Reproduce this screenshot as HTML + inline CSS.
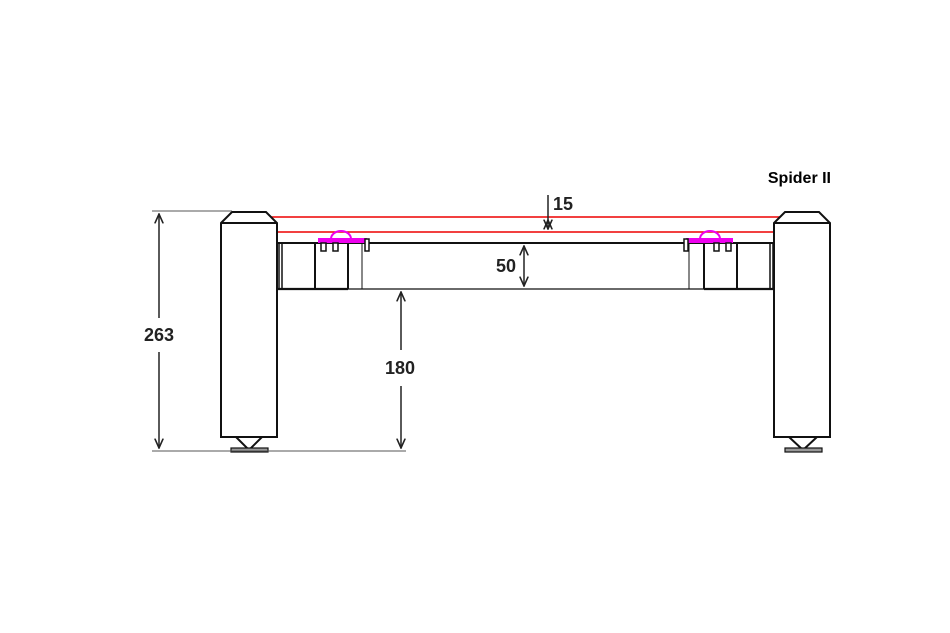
<!DOCTYPE html>
<html><head><style>html,body{margin:0;padding:0;background:#fff}svg{display:block}</style></head>
<body>
<svg width="950" height="633" viewBox="0 0 950 633" xmlns="http://www.w3.org/2000/svg">
<defs>
<marker id="a" viewBox="0 0 10 10" refX="9" refY="5" markerWidth="7" markerHeight="7" orient="auto-start-reverse"><path d="M0,1 L9,5 L0,9" fill="none" stroke="#222" stroke-width="1.5"/></marker>
</defs>
<rect width="950" height="633" fill="#fff"/>
<!-- red lines -->
<line x1="270" y1="217" x2="780" y2="217" stroke="#e00" stroke-width="1.5"/>
<line x1="277" y1="232" x2="775" y2="232" stroke="#e00" stroke-width="1.5"/>
<!-- beam -->
<g stroke="#111" fill="none">
<line x1="277" y1="243" x2="775" y2="243" stroke-width="2"/>
<line x1="277" y1="289" x2="775" y2="289" stroke-width="1.2"/>
<line x1="278" y1="289" x2="348" y2="289" stroke-width="2.2"/>
<line x1="704" y1="289" x2="773" y2="289" stroke-width="2.2"/>
<line x1="279" y1="243" x2="279" y2="289" stroke-width="1.5"/>
<line x1="282" y1="243" x2="282" y2="289" stroke-width="1.5"/>
<line x1="315" y1="243" x2="315" y2="289" stroke-width="2"/>
<line x1="348" y1="243" x2="348" y2="289" stroke-width="2"/>
<line x1="362" y1="243" x2="362" y2="289" stroke-width="1"/>
<line x1="689" y1="243" x2="689" y2="289" stroke-width="1"/>
<line x1="704" y1="243" x2="704" y2="289" stroke-width="2"/>
<line x1="737" y1="243" x2="737" y2="289" stroke-width="2"/>
<line x1="770" y1="243" x2="770" y2="289" stroke-width="1.5"/>
<line x1="773" y1="243" x2="773" y2="289" stroke-width="1.5"/>
</g>
<!-- magenta clamps -->
<path d="M331,239 A10,8 0 0 1 351,239" fill="none" stroke="#e0e" stroke-width="2"/>
<rect x="318" y="238" width="49" height="5" fill="#e0e"/>
<path d="M700,239 A10,8 0 0 1 720,239" fill="none" stroke="#e0e" stroke-width="2"/>
<rect x="686" y="238" width="47" height="5" fill="#e0e"/>
<g fill="#fff" stroke="#111" stroke-width="1.5">
<rect x="321" y="243" width="5" height="8"/><rect x="333" y="243" width="5" height="8"/><rect x="365" y="239" width="4" height="12"/>
<rect x="684" y="239" width="4" height="12"/><rect x="714" y="243" width="5" height="8"/><rect x="726" y="243" width="5" height="8"/>
</g>
<!-- legs -->
<g stroke="#111" stroke-width="2" fill="#fff">
<path d="M221,223 L232,212 L266,212 L277,223 L277,437 L221,437 Z"/>
<line x1="221" y1="223" x2="277" y2="223"/>
<path d="M236,437 L249,450 L262,437" fill="none"/>
<path d="M774,223 L785,212 L819,212 L830,223 L830,437 L774,437 Z"/>
<line x1="774" y1="223" x2="830" y2="223"/>
<path d="M789,437 L803,450 L817,437" fill="none"/>
</g>
<rect x="231" y="448" width="37" height="4" fill="#999" stroke="#111" stroke-width="1.2"/>
<rect x="785" y="448" width="37" height="4" fill="#999" stroke="#111" stroke-width="1.2"/>
<!-- dimension lines -->
<g stroke="#555" stroke-width="1">
<line x1="152" y1="211" x2="232" y2="211"/>
<line x1="152" y1="451" x2="406" y2="451"/>
</g>
<g stroke="#222" stroke-width="1.5">
<line x1="159" y1="214" x2="159" y2="318" marker-start="url(#a)"/>
<line x1="159" y1="352" x2="159" y2="448" marker-end="url(#a)"/>
<line x1="401" y1="292" x2="401" y2="350" marker-start="url(#a)"/>
<line x1="401" y1="386" x2="401" y2="448" marker-end="url(#a)"/>
<line x1="524" y1="246" x2="524" y2="286" marker-start="url(#a)" marker-end="url(#a)"/>
<line x1="548" y1="195" x2="548" y2="229" marker-end="url(#a)"/>
<line x1="548" y1="224" x2="548" y2="220" marker-end="url(#a)"/>
</g>
<g font-family="Liberation Sans, sans-serif" font-weight="bold" fill="#222" font-size="18">
<text x="159" y="341" text-anchor="middle">263</text>
<text x="400" y="374" text-anchor="middle">180</text>
<text x="506" y="272" text-anchor="middle">50</text>
<text x="553" y="210">15</text>
<text x="831" y="183" text-anchor="end" font-size="16" fill="#000">Spider II</text>
</g>
</svg>
</body></html>
